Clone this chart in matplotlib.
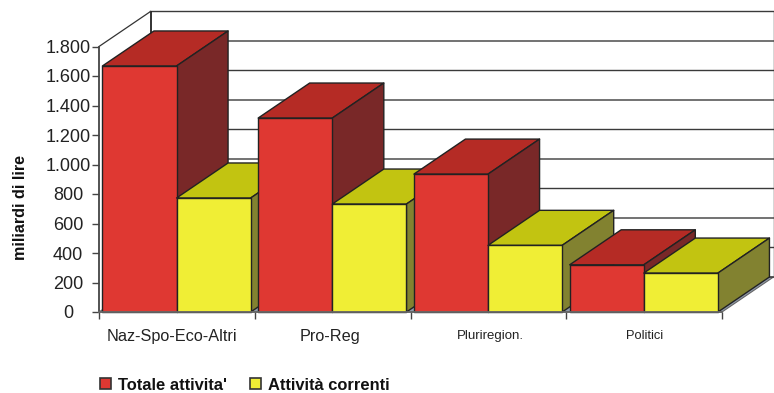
import matplotlib
matplotlib.use('Agg')
import matplotlib.pyplot as plt
from matplotlib.patches import Patch, Polygon

plt.rcParams['font.family'] = ['Liberation Sans', 'DejaVu Sans']

categories = ['Naz-Spo-Eco-Altri', 'Pro-Reg', 'Pluriregion.', 'Politici']
label_sizes = [11.7, 11.7, 9.5, 9.3]
label_shift = [-4.5, -3, 1.5, 0]
totale = [1668, 1315, 935, 320]
correnti = [773, 732, 452, 264]
yticks = list(range(0, 1801, 200))
ytick_labels = ['0', '200', '400', '600', '800', '1.000', '1.200', '1.400', '1.600', '1.800']

W, H = 774, 393
fig = plt.figure(figsize=(W / 100, H / 100), dpi=100)
# front plane of the 3d box
ax = fig.add_axes([99 / W, 1 - 312 / H, 623 / W, 265.5 / H])
ax.set_xlim(0, 4)
ax.set_ylim(0, 1800)
for s in ax.spines.values():
    s.set_visible(False)
ax.patch.set_visible(False)

# depth of the box in data units
DX = 51.5 / 155.75
DY = 35 / (265.5 / 1800)
BAR_W = 0.476
GAP = 0.022
EDGE = '#222222'


def box(x0, x1, h, front, top, side):
    ax.add_patch(Polygon([(x0, h), (x0 + DX, h + DY), (x1 + DX, h + DY), (x1, h)],
                         fc=top, ec=EDGE, lw=1, clip_on=False, joinstyle='round'))
    ax.add_patch(Polygon([(x1, 0), (x1 + DX, DY), (x1 + DX, h + DY), (x1, h)],
                         fc=side, ec=EDGE, lw=1, clip_on=False, joinstyle='round'))
    ax.add_patch(Polygon([(x0, 0), (x1, 0), (x1, h), (x0, h)],
                         fc=front, ec=EDGE, lw=1, clip_on=False, joinstyle='round'))


# floor, back wall grid and left wall
ax.add_patch(Polygon([(0, 0), (4, 0), (4 + DX, DY), (DX, DY)], fc='#8F9AAB', ec='#666666',
                     lw=0.8, clip_on=False, zorder=0))
for v in yticks:
    ax.plot([DX, 4 + DX], [v + DY, v + DY], color='#3A3A3A', lw=1, clip_on=False, zorder=0,
            snap=False)
ax.plot([DX, DX], [DY, 1800 + DY], color='#222222', lw=1.3, clip_on=False, zorder=0)
ax.plot([4 + DX, 4 + DX], [DY, 1800 + DY], color='#333333', lw=1, clip_on=False, zorder=0)
ax.plot([0, DX], [1800, 1800 + DY], color='#333333', lw=0.9, clip_on=False, zorder=0)

for i in range(4):
    x0 = i + GAP
    box(x0, x0 + BAR_W, totale[i], '#DF3832', '#B52B25', '#792828')
    box(x0 + BAR_W, x0 + 2 * BAR_W, correnti[i], '#F0EE35', '#C2C411', '#828230')

ax.plot([0, 0], [0, 1800], color='#444444', lw=1.3, clip_on=False)
ax.plot([0, 4], [0, 0], color='#666666', lw=1.3, clip_on=False)

ax.set_yticks(yticks)
ax.set_yticklabels(ytick_labels, fontsize=13, color='#222222', ha='center')
ax.tick_params(axis='y', length=5, width=1, color='#444444', pad=17.3)
ax.set_xticks(range(5))
ax.set_xticklabels([])
ax.tick_params(axis='x', length=5, width=1, color='#444444')
for i, name in enumerate(categories):
    ax.annotate(name, (i + 0.5, 0), xytext=(label_shift[i], -24), textcoords='offset pixels',
                ha='center', va='center', fontsize=label_sizes[i], color='#222222',
                annotation_clip=False)

fig.text(21 / W, 1 - 208 / H, 'miliardi di lire', rotation=90, fontsize=11.6, fontweight='bold',
         ha='center', va='center', color='#111111')

handles = [Patch(fc='#DF3832', ec='#333333', lw=1.2, label="Totale attivita'"),
           Patch(fc='#F0EE35', ec='#333333', lw=1.2, label='Attività correnti')]
leg = fig.legend(handles=handles, ncol=2, frameon=False, loc='center left',
                 bbox_to_anchor=(85 / W, 1 - 385 / H), prop={'size': 11.9, 'weight': 'bold'},
                 handlelength=0.68, handleheight=0.68, handletextpad=0.42, columnspacing=1.37,
                 labelcolor='#111111')

fig.savefig('out.png', dpi=100)
